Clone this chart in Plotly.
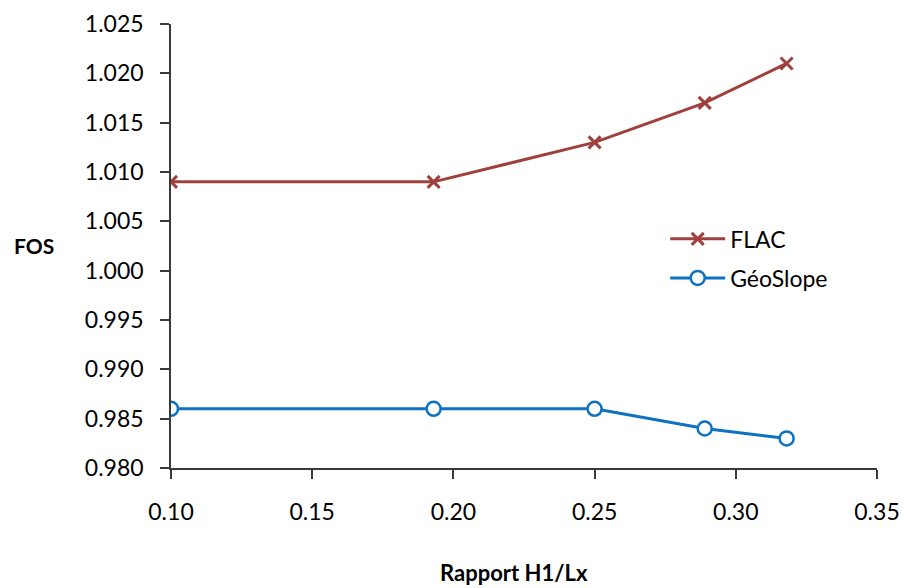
import plotly.graph_objects as go

ratio = [0.10, 0.193, 0.25, 0.289, 0.318]
flac = [1.009, 1.009, 1.013, 1.017, 1.021]
geoslope = [0.986, 0.986, 0.986, 0.984, 0.983]

x_ticks = [0.10, 0.15, 0.20, 0.25, 0.30, 0.35]
y_ticks = [0.980, 0.985, 0.990, 0.995, 1.000, 1.005, 1.010, 1.015, 1.020, 1.025]

FONT = "Lato, 'Open Sans', sans-serif"
RED = "#A0403D"
BLUE = "#0E72C0"

fig = go.Figure()
fig.add_trace(go.Scatter(
    x=ratio, y=flac, name="FLAC", mode="lines+markers", legend="legend",
    line=dict(color=RED, width=3),
    marker=dict(symbol="x-thin", size=12, line=dict(color=RED, width=3)),
))
fig.add_trace(go.Scatter(
    x=ratio, y=geoslope, name="GéoSlope", mode="lines+markers", legend="legend2",
    line=dict(color=BLUE, width=3),
    marker=dict(symbol="circle", size=14, color="white", line=dict(color=BLUE, width=2.5)),
))

axis_common = dict(
    showgrid=False, zeroline=False, showline=True, linecolor="#3a3a3a", linewidth=1.5,
    ticks="outside", ticklen=9, tickcolor="#3a3a3a", tickwidth=1.5, automargin=False,
    tickfont=dict(family=FONT, size=23, color="black"),
)
fig.update_xaxes(range=[0.10, 0.35], tickvals=x_ticks, ticklabelstandoff=14,
                 ticktext=[f"{v:.2f}" for v in x_ticks], **axis_common)
fig.update_yaxes(range=[0.980, 1.025], tickvals=y_ticks, ticklabelstandoff=12,
                 ticktext=[f"{v:.3f}" for v in y_ticks], **axis_common)

fig.add_annotation(text="<b>FOS</b>", xref="paper", yref="paper", x=-0.225, y=0.502,
                   xanchor="left", yanchor="middle", showarrow=False,
                   font=dict(family=FONT, size=21, color="black"))
fig.add_annotation(text="<b>Rapport H1/Lx</b>", xref="paper", yref="paper", x=0.486, y=-0.236,
                   xanchor="center", yanchor="middle", showarrow=False,
                   font=dict(family=FONT, size=22, color="black"))

leg_common = dict(xanchor="left", yanchor="middle", itemwidth=55,
                  font=dict(family=FONT, size=23, color="black"),
                  bgcolor="rgba(0,0,0,0)")
fig.update_layout(
    width=904, height=588,
    margin=dict(l=171, r=27, t=24, b=120),
    plot_bgcolor="white", paper_bgcolor="white",
    showlegend=True,
    legend=dict(x=0.70, y=0.516, **leg_common),
    legend2=dict(x=0.70, y=0.428, **leg_common),
)

fig.write_html("out.html")
